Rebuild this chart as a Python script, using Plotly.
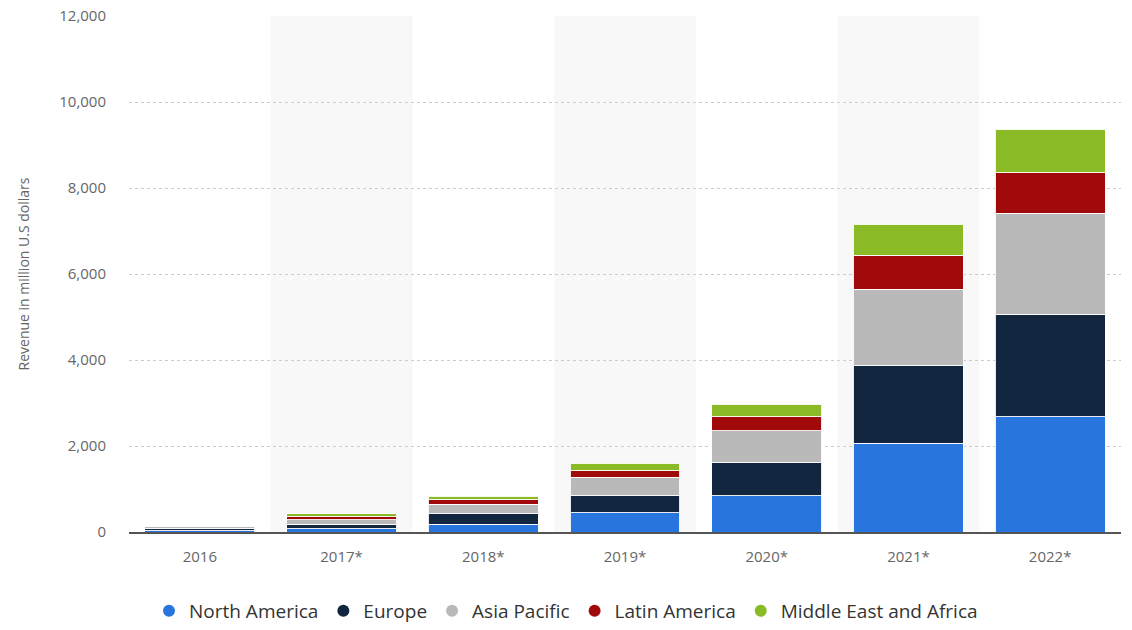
import plotly.graph_objects as go

years = ["2016", "2017*", "2018*", "2019*", "2020*", "2021*", "2022*"]
north_america = [35, 75, 180, 450, 840, 2060, 2680]
europe = [45, 100, 250, 390, 770, 1805, 2380]
asia_pacific = [40, 115, 220, 435, 740, 1785, 2350]
latin_america = [15, 60, 105, 147, 330, 790, 945]
middle_east_africa = [15, 75, 80, 178, 290, 720, 1010]

series = [
    ("North America", north_america, "#2876dd"),
    ("Europe", europe, "#12263f"),
    ("Asia Pacific", asia_pacific, "#b9b9b9"),
    ("Latin America", latin_america, "#a10a0a"),
    ("Middle East and Africa", middle_east_africa, "#8aba26"),
]

fig = go.Figure()
for name, vals, col in series:
    fig.add_trace(go.Bar(
        x=list(range(len(years))), y=vals, name=name,
        marker=dict(color=col, line=dict(color="rgba(255,255,255,0.9)", width=1)),
        width=0.776, showlegend=False,
    ))
for name, vals, col in series:
    fig.add_trace(go.Scatter(
        x=[None], y=[None], mode="markers", name=name,
        marker=dict(symbol="circle", size=16, color=col),
    ))

shapes = []
for i in range(len(years)):
    if i % 2 == 1:
        shapes.append(dict(type="rect", xref="x", yref="paper", x0=i - 0.5, x1=i + 0.5,
                           y0=0, y1=1, fillcolor="#f8f8f8", line=dict(width=0), layer="below"))

fig.update_layout(
    width=1132, height=630,
    margin=dict(l=129, r=11, t=16, b=98, autoexpand=False),
    barmode="stack",
    plot_bgcolor="white", paper_bgcolor="white",
    font=dict(family="Open Sans", color="#666666"),
    shapes=shapes,
    xaxis=dict(
        range=[-0.5, 6.5],
        tickmode="array", tickvals=list(range(len(years))), ticktext=years,
        tickfont=dict(size=15, color="#666666"),
        showgrid=False, zeroline=False,
        showline=True, linecolor="#555555", linewidth=2,
        ticks="", ticklabelstandoff=10,
    ),
    yaxis=dict(
        range=[0, 12000], tickvals=[0, 2000, 4000, 6000, 8000, 10000, 12000],
        tickformat=",d",
        tickfont=dict(size=15, color="#666666"),
        showgrid=True, gridcolor="#cccccc", griddash="dot", gridwidth=1,
        zeroline=False, showline=False, ticks="",
        ticklabelstandoff=22,
        title=dict(text="Revenue in million U.S dollars", font=dict(size=14, color="#666666"), standoff=26),
    ),
    legend=dict(
        orientation="h", x=0.5, xanchor="center", xref="container",
        y=-0.009, yanchor="bottom", yref="container",
        font=dict(size=19, color="#333333"), itemsizing="constant",
        traceorder="normal", itemwidth=30,
    ),
)

fig.write_html("out.html")
